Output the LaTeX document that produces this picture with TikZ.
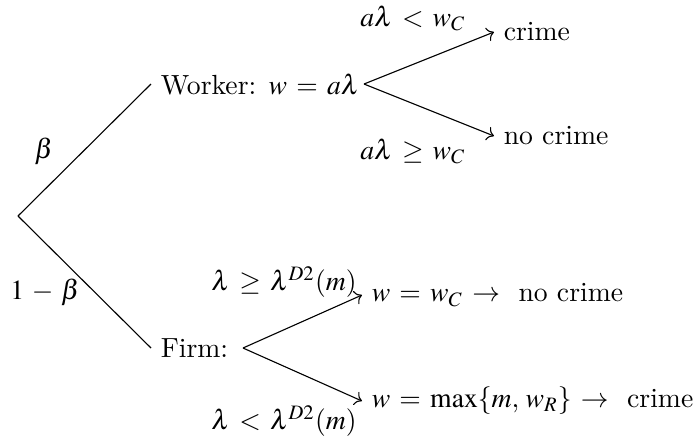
\documentclass[tikz,border=0pt]{standalone}
\usepackage{amsmath}
\usepackage{mathptmx}
\usepackage{tikz}
\usetikzlibrary{arrows.meta,positioning,calc}
\thickmuskip=6mu plus 2mu
\medmuskip=5mu plus 2mu minus 2mu

\begin{document}
\begin{tikzpicture}[x=0.0127cm,y=-0.0127cm,every node/.style={font=\normalsize},
    branch/.style={-{To}}]
  \useasboundingbox (0,0) rectangle (695,438);
  % nature's move
  \coordinate (root) at (18,216);
  \node[anchor=west] (worker) at (151,84) {Worker: $w = a\lambda$};
  \node[anchor=west] (firm) at (151,348) {Firm:};
  \draw (root) -- (worker.west);
  \draw (root) -- (firm.west);
  \node (pb) at (44,151) {$\beta$};
  \node (pnb) at (45,292) {$1-\beta$};
  % worker sets the wage
  \coordinate (wsplit) at (364,84);
  \node[anchor=west] (wcrime) at (494,32) {crime};
  \node[anchor=west] (wnocrime) at (494,136) {no crime};
  \draw[branch] (wsplit) -- (wcrime.west);
  \draw[branch] (wsplit) -- (wnocrime.west);
  \node (wlow) at (413,18) {$a\lambda < w_C$};
  \node (whigh) at (413,151) {$a\lambda \geq w_C$};
  % firm sets the wage
  \coordinate (fsplit) at (243,348);
  \node[anchor=west] (fnocrime) at (362,295) {$w = w_C \rightarrow$~ no crime};
  \node[anchor=west] (fcrime) at (362,401) {$w = \max\{m,\, w_R\} \rightarrow$~ crime};
  \draw[branch] (fsplit) -- (fnocrime.west);
  \draw[branch] (fsplit) -- (fcrime.west);
  \node (fhigh) at (284,282) {$\lambda \geq \lambda^{D2}(m)$};
  \node (flow) at (284,421) {$\lambda < \lambda^{D2}(m)$};
\end{tikzpicture}
\end{document}
